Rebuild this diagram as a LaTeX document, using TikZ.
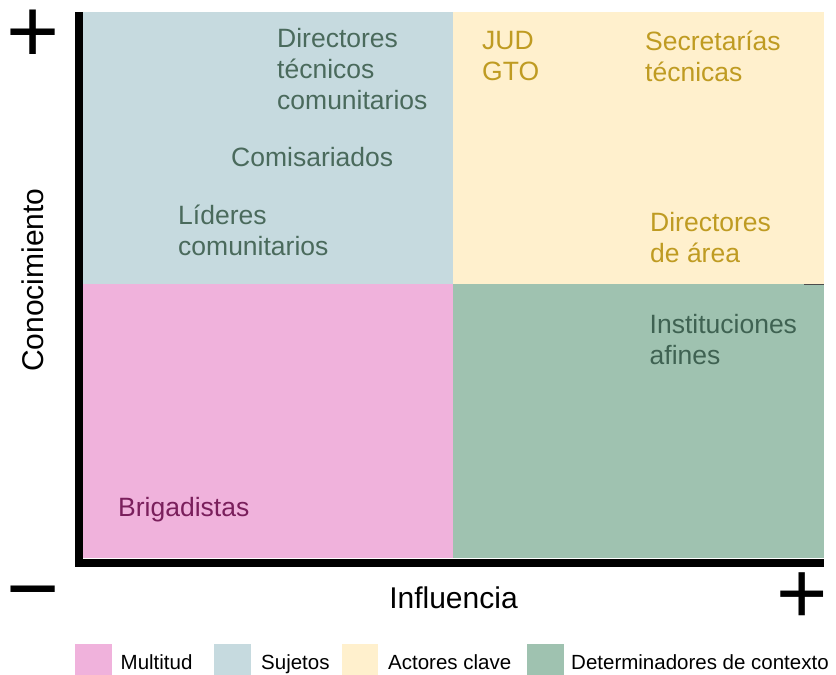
\documentclass[tikz,border=0pt]{standalone}
\usepackage{fontspec}
\setmainfont{Liberation Sans}
\definecolor{multitud}{HTML}{F0B2DC}
\definecolor{sujetos}{HTML}{C6DADF}
\definecolor{actores}{HTML}{FFF0CD}
\definecolor{contexto}{HTML}{9FC2B0}
\definecolor{sujetostext}{HTML}{4A6A5C}
\definecolor{actorestext}{HTML}{BF9B22}
\definecolor{contextotext}{HTML}{3F6252}
\definecolor{multitudtext}{HTML}{7A1F5C}
\begin{document}
\begin{tikzpicture}[x=1pt, y=-1pt]
    \tikzstyle{actor}=[anchor=north west, inner sep=0pt, align=left, font=\fontsize{26.5}{31}\selectfont]
    \tikzstyle{sign}=[anchor=base, inner sep=0pt, text height=48pt, text depth=0pt, font=\fontsize{91}{91}\selectfont]
    \tikzstyle{axislabel}=[inner sep=0pt, font=\fontsize{30}{30}\selectfont]
    \tikzstyle{legend}=[anchor=base west, inner sep=0pt, font=\fontsize{20.5}{20.5}\selectfont]
    \useasboundingbox (0, 0) rectangle (836, 675);
    % quadrants
    \fill [sujetos] (83, 12) rectangle (453, 284);
    \fill [actores] (453, 12) rectangle (824, 284);
    \fill [multitud] (83, 284) rectangle (453, 558);
    \fill [contexto] (453, 284) rectangle (824, 558);
    \draw [black!70, line width=1pt] (804, 284) -- (824, 284);
    \draw [line width=8pt] (79, 12) -- (79, 562.5) -- (824, 562.5);
    % actors
    \node [actor, sujetostext] (dirtec) at (277, 28) {Directores\\técnicos\\comunitarios};
    \node [actor, sujetostext] (comisariados) at (231, 147) {Comisariados};
    \node [actor, sujetostext] (lideres) at (178, 205) {Líderes\\comunitarios};
    \node [actor, actorestext] (jud) at (482, 31) {JUD\\GTO};
    \node [actor, actorestext] (secretarias) at (645, 31) {Secretarías\\técnicas};
    \node [actor, actorestext] (dirarea) at (650, 212) {Directores\\de área};
    \node [actor, contextotext] (instituciones) at (649.5, 314) {Instituciones\\afines};
    \node [actor, multitudtext] (brigadistas) at (118, 497) {Brigadistas};
    % axes
    \node [sign] (masy) at (33.5, 62) {+};
    \node [sign] (menos) at (33.5, 619) {−};
    \node [sign, font=\fontsize{88}{88}\selectfont] (masx) at (802.5, 623) {+};
    \node [axislabel, rotate=90] (conocimiento) at (33, 280) {Conocimiento};
    \node [axislabel, anchor=base] (influencia) at (453.5, 608) {Influencia};
    % legend
    \fill [multitud] (75, 644) rectangle (112, 675);
    \fill [sujetos] (214, 644) rectangle (251, 675);
    \fill [actores] (342, 644) rectangle (378, 675);
    \fill [contexto] (527, 644) rectangle (564, 675);
    \node [legend] (multitudlabel) at (120.5, 669) {Multitud};
    \node [legend] (sujetoslabel) at (261, 669) {Sujetos};
    \node [legend] (actoreslabel) at (388, 669) {Actores clave};
    \node [legend] (contextolabel) at (571, 669) {Determinadores de contexto};
\end{tikzpicture}
\end{document}
